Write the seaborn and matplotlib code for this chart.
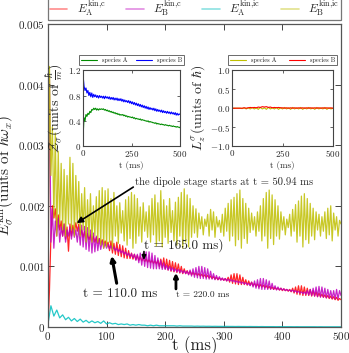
import numpy as np
import pandas as pd
import matplotlib
matplotlib.use("Agg")
import matplotlib.pyplot as plt
import seaborn as sns

sns.set_style("ticks")
plt.rcParams["font.family"] = "serif"
plt.rcParams["font.serif"] = ["cmr10", "DejaVu Serif"]
plt.rcParams["mathtext.fontset"] = "cm"
plt.rcParams["axes.formatter.use_mathtext"] = True
plt.rcParams["axes.unicode_minus"] = False

# ---------------- data (energies in units of 1e-5 hbar*omega_x) ----------------
t_main = np.arange(0, 500.01, 2.5)

E_B_ic = [
    40, 430, 250, 330, 180, 320, 150, 290, 170, 270, 160, 260, 150, 250, 170, 280, 160, 270, 150, 250,
    170, 240, 150, 220, 160, 230, 140, 210, 150, 220, 140, 200, 150, 215, 140, 225, 135, 230, 130, 225,
    132, 228, 140, 212, 128, 222, 150, 200, 138, 205, 155, 192, 142, 210, 135, 215, 146, 222, 130, 218,
    138, 212, 150, 198, 140, 205, 158, 190, 148, 200, 140, 212, 152, 218, 134, 205, 142, 225, 132, 210,
    148, 200, 138, 212, 156, 192, 142, 206, 135, 214, 150, 222, 130, 228, 140, 218, 132, 212, 148, 200,
    155, 195, 148, 188, 162, 182, 152, 178, 166, 186, 150, 194, 160, 190, 148, 182, 165, 176, 156, 186,
    150, 196, 158, 204, 142, 210, 150, 214, 134, 220, 144, 226, 130, 212, 146, 204, 138, 196, 156, 188,
    160, 182, 150, 190, 158, 200, 142, 212, 150, 222, 130, 226, 146, 218, 136, 210, 150, 200, 145, 190,
    160, 182, 152, 178, 164, 186, 150, 194, 158, 202, 140, 208, 150, 216, 132, 220, 144, 212, 138, 204,
    150, 196, 144, 190, 160, 186, 150, 182, 158, 190, 146, 196, 152, 200, 142, 188, 160, 182, 150, 176,
    170]

E_A_c = [
    0, 60, 150, 200, 180, 195, 165, 185, 160, 175, 150, 170, 145, 165, 125, 170, 150, 168, 155, 172,
    158, 170, 152, 160, 148, 158, 146, 154, 144, 152, 142, 150, 140, 148, 138, 146, 137, 144, 136, 142,
    134, 140, 126, 142, 122, 138, 120, 140, 118, 136, 116, 134, 114, 130, 113, 126, 113, 122, 112, 120,
    111, 118, 110, 116, 109, 114, 108, 112, 107, 111, 106, 110, 105, 109, 104, 110, 100, 112, 98, 114,
    96, 112, 94, 110, 92, 108, 91, 106, 90, 104, 89, 100, 88, 96, 88, 93, 87, 92, 86, 90,
    86, 89, 85, 88, 84, 87, 83, 86, 82, 85, 81, 84, 80, 83, 79, 82, 78, 81, 78, 80,
    77, 80, 76, 82, 74, 86, 72, 88, 71, 88, 70, 86, 70, 82, 70, 78, 69, 76, 69, 74,
    68, 72, 67, 71, 66, 70, 66, 69, 65, 68, 64, 67, 63, 66, 62, 65, 62, 64, 61, 64,
    60, 63, 60, 62, 59, 62, 58, 64, 56, 66, 54, 68, 53, 68, 52, 66, 52, 64, 52, 62,
    51, 60, 51, 58, 50, 56, 50, 54, 49, 53, 48, 52, 47, 51, 46, 50, 45, 49, 44, 47,
    45]

E_B_c = [
    60, 410, 140, 195, 130, 175, 150, 180, 140, 165, 150, 170, 140, 160, 150, 165, 145, 162, 148, 160,
    140, 165, 135, 168, 132, 166, 128, 164, 125, 160, 122, 155, 124, 150, 126, 146, 128, 142, 130, 138,
    130, 136, 129, 134, 128, 132, 126, 130, 124, 128, 122, 126, 120, 124, 118, 122, 116, 121, 114, 120,
    110, 120, 106, 122, 102, 122, 100, 124, 98, 124, 97, 122, 96, 118, 96, 114, 96, 110, 95, 106,
    95, 102, 94, 100, 93, 98, 92, 96, 91, 95, 90, 94, 89, 93, 88, 92, 86, 94, 84, 96,
    82, 98, 81, 100, 80, 100, 80, 98, 79, 96, 79, 92, 79, 88, 78, 85, 78, 83, 77, 81,
    77, 80, 76, 79, 76, 78, 75, 77, 74, 76, 73, 75, 72, 74, 71, 73, 70, 72, 68, 74,
    66, 76, 64, 78, 63, 80, 62, 80, 62, 78, 62, 76, 62, 72, 62, 68, 61, 66, 61, 64,
    61, 63, 60, 62, 60, 61, 59, 61, 58, 60, 57, 59, 56, 58, 55, 58, 54, 60, 53, 62,
    52, 64, 51, 66, 50, 67, 49, 66, 49, 64, 48, 62, 48, 60, 47, 60, 46, 62, 46, 60,
    52]

t_cyan = np.arange(0, 500.01, 5)
E_A_ic = [
    5, 35, 18, 28, 15, 20, 12, 16, 10, 14,
    9, 13, 8, 11, 7, 10, 7, 9, 6, 10,
    5, 7, 5, 6, 4, 5, 4, 5, 3, 4,
    3, 4, 3, 3, 2, 3, 2, 3, 2, 2,
    2, 2, 2, 2, 1.5, 2, 1.5, 1.5, 1.5, 1.5,
    1.2, 1.4, 1.2, 1.3, 1.1, 1.2, 1.0, 1.1, 1.0, 1.0,
    0.9, 1.0, 0.9, 0.9, 0.8, 0.9, 0.8, 0.8, 0.7, 0.8,
    0.7, 0.7, 0.6, 0.7, 0.6, 0.6, 0.6, 0.6, 0.5, 0.6,
    0.5, 0.5, 0.5, 0.5, 0.4, 0.5, 0.4, 0.4, 0.4, 0.4,
    0.4, 0.4, 0.3, 0.4, 0.3, 0.3, 0.3, 0.3, 0.3, 0.3,
    0.3]

# ---------------- inset data ----------------
t_ins = np.arange(0, 500.01, 5)
Z_B = [
    1.12, 0.95, 0.88, 0.92, 0.84, 0.88, 0.80, 0.85, 0.78, 0.84,
    0.77, 0.82, 0.78, 0.81, 0.77, 0.80, 0.76, 0.80, 0.77, 0.79,
    0.76, 0.79, 0.75, 0.79, 0.76, 0.78, 0.75, 0.78, 0.74, 0.77,
    0.74, 0.77, 0.73, 0.76, 0.73, 0.76, 0.72, 0.75, 0.72, 0.75,
    0.71, 0.74, 0.70, 0.73, 0.70, 0.72, 0.69, 0.72, 0.68, 0.71,
    0.67, 0.70, 0.66, 0.69, 0.65, 0.68, 0.64, 0.67, 0.63, 0.66,
    0.62, 0.65, 0.61, 0.64, 0.60, 0.63, 0.59, 0.62, 0.58, 0.61,
    0.58, 0.60, 0.57, 0.60, 0.56, 0.59, 0.55, 0.58, 0.55, 0.57,
    0.54, 0.57, 0.53, 0.56, 0.53, 0.55, 0.52, 0.55, 0.52, 0.54,
    0.51, 0.54, 0.51, 0.53, 0.50, 0.53, 0.49, 0.52, 0.49, 0.51,
    0.50]
Z_A = [
    0.15, 0.45, 0.40, 0.50, 0.47, 0.52, 0.50, 0.55, 0.53, 0.58,
    0.57, 0.60, 0.58, 0.60, 0.57, 0.59, 0.57, 0.59, 0.58, 0.59,
    0.58, 0.59, 0.57, 0.58, 0.56, 0.57, 0.55, 0.56, 0.54, 0.55,
    0.53, 0.54, 0.52, 0.53, 0.51, 0.52, 0.50, 0.51, 0.49, 0.50,
    0.49, 0.50, 0.48, 0.49, 0.47, 0.48, 0.46, 0.47, 0.46, 0.46,
    0.45, 0.46, 0.44, 0.45, 0.43, 0.44, 0.43, 0.43, 0.42, 0.43,
    0.41, 0.42, 0.41, 0.41, 0.40, 0.40, 0.39, 0.40, 0.38, 0.39,
    0.38, 0.38, 0.37, 0.37, 0.36, 0.37, 0.35, 0.36, 0.35, 0.35,
    0.34, 0.35, 0.34, 0.34, 0.33, 0.34, 0.33, 0.33, 0.32, 0.33,
    0.32, 0.32, 0.31, 0.32, 0.31, 0.31, 0.30, 0.31, 0.30, 0.30,
    0.29]

t_L = np.arange(0, 500.01, 10)
L_A = [0.0, 0.0, 0.0, 0.0, 0.0, -0.01, 0.01, -0.02, 0.01, -0.02,
       0.02, -0.02, 0.01, -0.03, 0.02, -0.02, 0.01, -0.03, 0.02, -0.02,
       0.01, -0.02, 0.02, -0.03, 0.01, -0.02, 0.02, -0.02, 0.01, -0.03,
       0.02, -0.02, 0.01, -0.02, 0.02, -0.03, 0.01, -0.02, 0.02, -0.02,
       0.01, -0.03, 0.02, -0.02, 0.01, -0.02, 0.02, -0.03, 0.01, -0.02,
       0.0]
L_B = [0.0, 0.0, 0.0, 0.0, 0.0, 0.0, 0.01, 0.0, 0.01, 0.02,
       0.01, 0.02, 0.01, 0.03, 0.02, 0.04, 0.03, 0.04, 0.02, 0.03,
       0.01, 0.02, 0.01, 0.02, 0.01, 0.01, 0.0, 0.01, 0.0, 0.01,
       0.0, 0.01, 0.0, 0.01, 0.0, 0.01, 0.0, 0.01, 0.0, 0.01,
       0.0, 0.01, 0.0, 0.01, 0.0, 0.01, 0.0, 0.01, 0.0, 0.01,
       0.0]

labels_main = [r"$E_{\rm A}^{\rm kin{,}c}$", r"$E_{\rm B}^{\rm kin{,}c}$",
               r"$E_{\rm A}^{\rm kin{,}ic}$", r"$E_{\rm B}^{\rm kin{,}ic}$"]

# ---------------- figure ----------------
fig = plt.figure(figsize=(3.49, 3.53), dpi=100)
ax = fig.add_axes([0.1375, 0.0737, 0.8395, 0.8583])

scale = 1e-5
series = [
    (t_main, E_A_c, (1.0, 0.0, 0.0), labels_main[0]),
    (t_main, E_B_c, (0.75, 0.0, 0.75), labels_main[1]),
    (t_cyan, E_A_ic, (0.0, 0.75, 0.75), labels_main[2]),
    (t_main, E_B_ic, (0.75, 0.75, 0.0), labels_main[3]),
]
for tt, vv, col, lab in series:
    sns.lineplot(x=tt, y=np.array(vv) * scale, ax=ax, color=col, lw=0.9,
                 alpha=0.85, label=lab, estimator=None, sort=False)

ax.set_xlim(0, 500)
ax.set_ylim(0, 0.005)
ax.set_xticks([0, 100, 200, 300, 400, 500])
ax.set_yticks([0, 0.001, 0.002, 0.003, 0.004, 0.005])
ax.set_yticklabels(["$0$", "$0.001$", "$0.002$", "$0.003$", "$0.004$", "$0.005$"])
ax.set_xticklabels(["$0$", "$100$", "$200$", "$300$", "$400$", "$500$"])
ax.tick_params(direction="in", top=True, right=True, labelsize=8, length=4, width=0.6, pad=2)
for s in ax.spines.values():
    s.set_color("#555555")
    s.set_linewidth(0.9)
ax.set_xlabel("t (ms)", fontsize=12)
ax.xaxis.set_label_coords(0.5, -0.032)
ax.set_ylabel(r"$E_\sigma^{\rm kin}$(units of $\hbar\omega_x$)", fontsize=11)
ax.yaxis.set_label_coords(-0.105, 0.5)

leg = ax.legend(loc="lower left", bbox_to_anchor=(0, 1.012, 1, 0.056), mode="expand",
                ncol=4, fontsize=8.5, frameon=True, fancybox=False, borderaxespad=0,
                handlelength=1.5, handletextpad=0.8, borderpad=0.15)
leg.get_frame().set_edgecolor("#555555")
leg.get_frame().set_linewidth(0.9)
for h in leg.get_lines():
    h.set_alpha(0.45)
    h.set_linewidth(1.2)

# annotations (arrows)
ax.annotate("", xy=(49, 0.001714), xytext=(145.6, 0.002309),
            arrowprops=dict(arrowstyle="-|>", color="k", lw=1.2, shrinkA=0, shrinkB=0,
                            mutation_scale=9))
ax.text(148.5, 0.002397, "the dipole stage starts at t = 50.94 ms", fontsize=7.6,
        ha="left", va="center")
ax.annotate("", xy=(108.7, 0.001174), xytext=(117.2, 0.000722),
            arrowprops=dict(arrowstyle="-|>", color="k", lw=2.2, shrinkA=0, shrinkB=0,
                            mutation_scale=7))
ax.text(59.2, 0.000545, "t = 110.0 ms", fontsize=9.5, ha="left", va="center")
ax.annotate("", xy=(163.8, 0.001107), xytext=(163.8, 0.001245),
            arrowprops=dict(arrowstyle="-|>", color="k", lw=1.2, shrinkA=0, shrinkB=0,
                            mutation_scale=6))
ax.text(163.8, 0.001355, "t = 165.0 ms)", fontsize=9.5, ha="left", va="center")
ax.annotate("", xy=(218.4, 0.000893), xytext=(218.4, 0.000628),
            arrowprops=dict(arrowstyle="-|>", color="k", lw=2.0, shrinkA=0, shrinkB=0,
                            mutation_scale=6))
ax.text(218.4, 0.000529, "t = 220.0 ms", fontsize=6.8, ha="left", va="center")

# ---------------- inset 1: Z_sigma ----------------
ax1 = fig.add_axes([0.238, 0.586, 0.278, 0.215])
sns.lineplot(x=t_ins, y=Z_A, ax=ax1, color=(0.0, 0.55, 0.0), lw=0.8, label="species A",
             estimator=None, sort=False)
sns.lineplot(x=t_ins, y=Z_B, ax=ax1, color=(0.0, 0.0, 1.0), lw=0.8, label="species B",
             estimator=None, sort=False)
ax1.set_xlim(0, 500)
ax1.set_ylim(0, 1.2)
ax1.set_xticks([0, 250, 500])
ax1.set_xticklabels(["$0$", "$250$", "$500$"])
ax1.set_yticks([0, 0.4, 0.8, 1.2])
ax1.set_yticklabels(["$0$", "$0.4$", "$0.8$", "$1.2$"])
ax1.set_xlabel("t (ms)", fontsize=6.5, labelpad=1)
ax1.set_ylabel(r"$\mathcal{Z}_\sigma$(units of $\frac{\hbar}{m}$)", fontsize=10, labelpad=1)

# ---------------- inset 2: L_z ----------------
ax2 = fig.add_axes([0.665, 0.586, 0.289, 0.215])
sns.lineplot(x=t_L, y=L_A, ax=ax2, color=(0.75, 0.75, 0.0), lw=0.8, label="species A",
             estimator=None, sort=False)
sns.lineplot(x=t_L, y=L_B, ax=ax2, color=(1.0, 0.0, 0.0), lw=0.8, label="species B",
             estimator=None, sort=False)
ax2.set_xlim(0, 500)
ax2.set_ylim(-1, 1)
ax2.set_xticks([0, 250, 500])
ax2.set_xticklabels(["$0$", "$250$", "$500$"])
ax2.set_yticks([-1, -0.5, 0, 0.5, 1])
ax2.set_yticklabels(["$-1.0$", "$-0.5$", "$0.0$", "$0.5$", "$1.0$"])
ax2.set_xlabel("t (ms)", fontsize=6.5, labelpad=1)
ax2.set_ylabel(r"$L_z^\sigma$(units of $\hbar$)", fontsize=10, labelpad=1)

for a in (ax1, ax2):
    a.tick_params(direction="in", top=True, right=True, labelsize=6.5, length=2.5,
                  width=0.5, pad=1.5)
    for s in a.spines.values():
        s.set_color("#444444")
        s.set_linewidth(0.8)
    lg = a.legend(loc="lower left", bbox_to_anchor=(-0.04, 1.066, 1.08, 0.145),
                  mode="expand", ncol=2, fontsize=4.5, frameon=True, fancybox=False,
                  borderaxespad=0, handlelength=2.5, borderpad=0.3)
    lg.get_frame().set_edgecolor("#444444")
    lg.get_frame().set_linewidth(0.7)

fig.savefig("out.png", dpi=100)
